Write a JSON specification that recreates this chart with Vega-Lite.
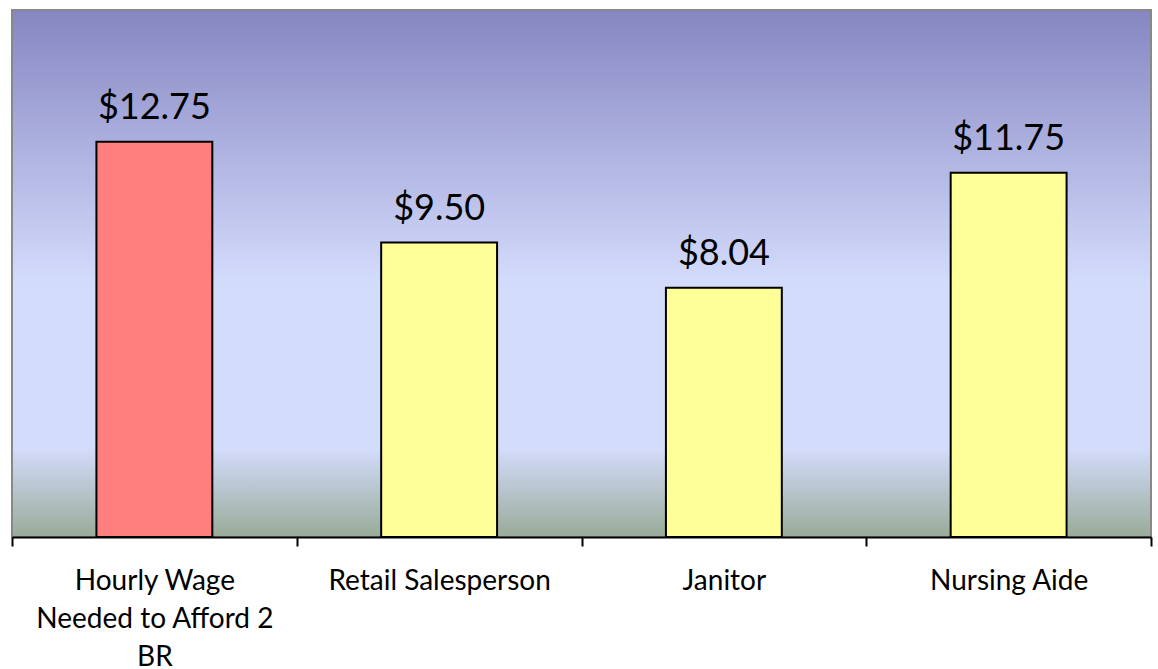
{
  "$schema": "https://vega.github.io/schema/vega-lite/v6.json",
  "width": 1139,
  "height": 527,
  "padding": {"left": 11, "top": 10, "right": 8, "bottom": 0},
  "background": "white",
  "data": {
    "values": [
      {"job": "Hourly Wage Needed to Afford 2 BR", "wage": 12.75, "label": "$12.75", "type": "needed"},
      {"job": "Retail Salesperson", "wage": 9.50, "label": "$9.50", "type": "job"},
      {"job": "Janitor", "wage": 8.04, "label": "$8.04", "type": "job"},
      {"job": "Nursing Aide", "wage": 11.75, "label": "$11.75", "type": "job"}
    ]
  },
  "config": {
    "font": "Lato",
    "view": {
      "stroke": "#888888",
      "strokeWidth": 2,
      "fill": {
        "gradient": "linear",
        "x1": 0, "y1": 0, "x2": 0, "y2": 1,
        "stops": [
          {"offset": 0, "color": "#8686c2"},
          {"offset": 0.52, "color": "#d4dcfc"},
          {"offset": 0.83, "color": "#d4dcfc"},
          {"offset": 1, "color": "#99ab99"}
        ]
      }
    }
  },
  "encoding": {
    "x": {
      "field": "job",
      "type": "nominal",
      "sort": null,
      "scale": {"paddingInner": 0, "paddingOuter": 0},
      "axis": {
        "title": null,
        "labelAngle": 0,
        "labelFontSize": 28,
        "labelColor": "black",
        "labelPadding": 21,
        "labelLineHeight": 38,
        "labelLimit": 400,
        "labelExpr": "datum.label == 'Hourly Wage Needed to Afford 2 BR' ? ['Hourly Wage', 'Needed to Afford 2', 'BR'] : datum.label",
        "domainColor": "black",
        "domainWidth": 2,
        "tickColor": "black",
        "tickWidth": 2,
        "tickSize": 9,
        "tickBand": "extent"
      }
    },
    "y": {
      "field": "wage",
      "type": "quantitative",
      "scale": {"domain": [0, 17], "nice": false},
      "axis": null
    }
  },
  "layer": [
    {
      "mark": {"type": "bar", "stroke": "black", "strokeWidth": 2, "width": {"band": 0.407}},
      "encoding": {
        "color": {
          "field": "type",
          "type": "nominal",
          "scale": {"domain": ["needed", "job"], "range": ["#ff7f7f", "#ffff99"]},
          "legend": null
        }
      }
    },
    {
      "mark": {"type": "text", "fontSize": 36, "dy": -15, "baseline": "bottom", "color": "black"},
      "encoding": {"text": {"field": "label"}}
    }
  ]
}
